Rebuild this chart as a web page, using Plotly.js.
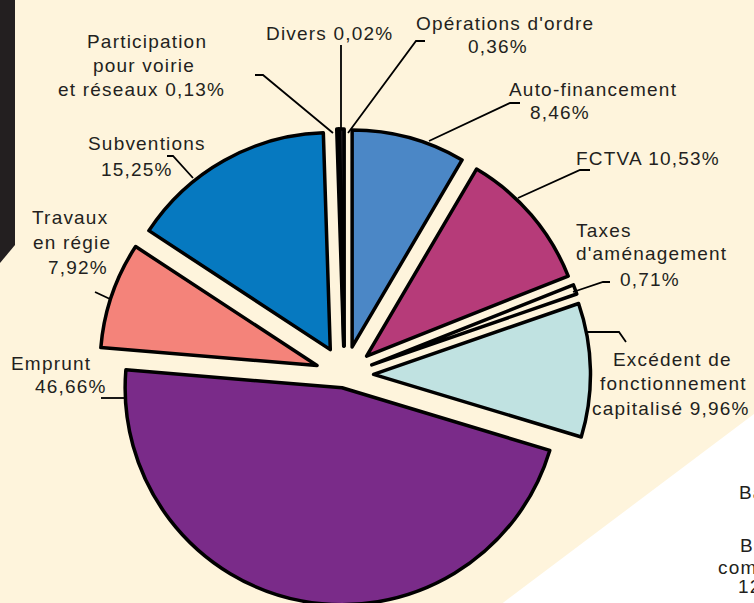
<!DOCTYPE html>
<html>
<head>
<meta charset="utf-8">
<script src="https://cdn.plot.ly/plotly-3.0.1.min.js"></script>
<style>
  html, body { margin:0; padding:0; background:#fef4dc; overflow:hidden; }
  #wrap { width:754px; height:603px; overflow:hidden; position:relative; }
  #chart { width:754px; height:660px; }
  svg text { letter-spacing: 1.2px; }
</style>
</head>
<body>
<div id="wrap"><div id="chart"></div></div>
<script>
// ---- data ----
const categories = ['Auto-financement', 'FCTVA', "Taxes d'aménagement",
  'Excédent de fonctionnement capitalisé', 'Emprunt', 'Travaux en régie',
  'Subventions', 'Participation pour voirie et réseaux', 'Divers', "Opérations d'ordre"];
const shares = [8.46, 10.53, 0.71, 9.96, 46.66, 7.92, 15.25, 0.13, 0.02, 0.36];
const sliceColors = ['#4b87c6', '#b63b79', '#fef4dc', '#c0e2e1', '#7a2b89',
  '#f4837a', '#0679c0', '#7a2b89', '#b63b79', '#231f20'];
const pulls = [0.134, 0.134, 0.134, 0.134, 0.06, 0.134, 0.134, 0.134, 0.134, 0.134];
const sideTexts = ['Ba', 'Ba', 'com', '12'];

// ---- helpers ----
const W = 754, H = 660;
const px = x => x / W;
const py = y => 1 - y / H;
const pct = i => shares[i].toFixed(2).replace('.', ',') + '%';

const trace = {
  type: 'pie',
  labels: categories,
  values: shares,
  sort: false,
  direction: 'clockwise',
  rotation: 0,
  pull: pulls,
  textinfo: 'none',
  hoverinfo: 'label+percent',
  marker: { colors: sliceColors, line: { color: '#000000', width: 3.5 } },
  domain: { x: [px(344.5 - 246), px(344.5 + 246)], y: [py(375 + 246), py(375 - 246)] },
  showlegend: false
};

// label lines: [text, centre x, centre y]
const labelLines = [
  ['Participation', 147, 40],
  ['pour voirie', 144, 64],
  ['et réseaux ' + pct(7), 141, 88],
  ['Divers ' + pct(8), 329, 32],
  ["Opérations d'ordre", 505, 22],
  [pct(9), 498, 46],
  ['Auto-financement', 593, 88],
  [pct(0), 560, 112],
  ['FCTVA ' + pct(1), 648, 157],
  ['Taxes', 604, 230],
  ["d'aménagement", 651, 253],
  [pct(2), 650, 278],
  ['Excédent de', 672, 358],
  ['fonctionnement', 673, 382],
  ['capitalisé ' + pct(3), 671, 407],
  ['Emprunt', 51, 362],
  [pct(4), 71, 385],
  ['Travaux', 70, 216],
  ['en régie', 72, 241],
  [pct(5), 78, 266],
  ['Subventions', 147, 143],
  [pct(6), 137, 168]
];
const annotations = labelLines.map(([t, x, y]) => ({
  text: t, x: px(x), y: py(y + 1), xref: 'paper', yref: 'paper',
  xanchor: 'center', yanchor: 'middle', showarrow: false,
  font: { family: 'Liberation Sans, Arial, sans-serif', size: 19, color: '#231f20' }
}));
// partially visible text in the white panel
[[737, 492], [738, 545], [716, 567], [736, 586]].forEach(([x, y], i) => {
  annotations.push({
    text: sideTexts[i], x: px(x), y: py(y), xref: 'paper', yref: 'paper',
    xanchor: 'left', yanchor: 'middle', showarrow: false,
    font: { family: 'Liberation Sans, Arial, sans-serif', size: 19, color: '#231f20' }
  });
});

function pathOf(pts, close) {
  return pts.map((p, i) => (i ? 'L' : 'M') + px(p[0]).toFixed(5) + ',' + py(p[1]).toFixed(5)).join(' ') + (close ? ' Z' : '');
}
const leaders = [
  [[255, 75], [263, 75], [333, 133]],
  [[341, 45], [341, 128]],
  [[425, 41], [416, 41], [348, 133]],
  [[520, 103], [510, 103], [429, 141]],
  [[590, 170], [580, 170], [518, 198]],
  [[610, 282], [603, 282], [573, 292]],
  [[587, 332], [619, 332], [626, 342]],
  [[101, 398], [125, 398]],
  [[95, 292], [110, 299]],
  [[167, 156], [173, 156], [193, 178]]
];
const shapes = [
  { type: 'path', xref: 'paper', yref: 'paper', layer: 'below',
    path: pathOf([[0, 0], [15, 0], [15, 245], [0, 263]], true),
    fillcolor: '#231f20', line: { width: 0 } },
  { type: 'path', xref: 'paper', yref: 'paper', layer: 'below',
    path: pathOf([[427, 660], [754, 414], [760, 414], [760, 660]], true),
    fillcolor: '#ffffff', line: { width: 0 } }
].concat(leaders.map(pts => ({
  type: 'path', xref: 'paper', yref: 'paper', layer: 'above',
  path: pathOf(pts, false), line: { color: '#000000', width: 1.8 }
})));

const layout = {
  width: W, height: H,
  margin: { l: 0, r: 0, t: 0, b: 0 },
  paper_bgcolor: '#fef4dc',
  plot_bgcolor: '#fef4dc',
  showlegend: false,
  annotations: annotations,
  shapes: shapes
};

Plotly.newPlot('chart', [trace], layout, { displayModeBar: false, staticPlot: true });
</script>
</body>
</html>
